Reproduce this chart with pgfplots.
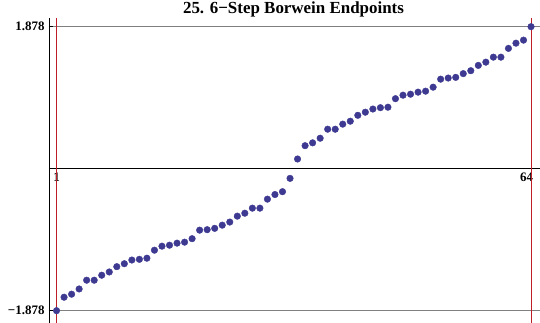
\documentclass[border=0pt]{standalone}
\usepackage{fontspec}
\setmainfont{Liberation Serif}
\usepackage{pgfplots}
\pgfplotsset{compat=1.18}
\definecolor{ptblue}{RGB}{62,58,145}
\definecolor{gridred}{RGB}{190,30,40}
\definecolor{gridgray}{RGB}{128,128,128}
\begin{document}
\begin{tikzpicture}
\begin{axis}[
  scale only axis,
  width=491bp, height=305bp,
  xmin=0, xmax=65.19,
  ymin=-2.041, ymax=1.993,
  axis lines=middle,
  axis line style={-, black, line width=0.6pt},
  xtick={1,64}, xticklabels={1,\hspace*{-9bp}64},
  ytick={-1.878,1.878}, yticklabels={−1.878,1.878},
  ymajorgrids,
  major y grid style={gridgray, line width=0.6pt},
  tick align=inside,
  major tick length=4bp,
  tick style={black, line width=0.5pt},
  ticklabel style={font=\fontsize{13}{14}\selectfont\bfseries},
  xticklabel style={anchor=north, yshift=-1bp},
  yticklabel style={anchor=east, xshift=-1bp},
  title={25. 6−Step Borwein Endpoints},
  title style={font=\fontsize{17}{18}\selectfont\bfseries, at={(0.498,1)}, anchor=base, inner sep=0pt, yshift=-1bp},
  clip=false,
]
\addplot[draw=gridred, line width=0.7pt] coordinates {(1,-2.041) (1,1.993)};
\addplot[draw=gridred, line width=0.7pt] coordinates {(64,-2.041) (64,1.993)};
\addplot[only marks, mark=*, mark size=3.3bp, color=ptblue, mark options={draw=ptblue, fill=ptblue}] coordinates {
(1,-1.878) (2,-1.700) (3,-1.660) (4,-1.591) (5,-1.475) (6,-1.475) (7,-1.409) (8,-1.366)
(9,-1.296) (10,-1.257) (11,-1.208) (12,-1.199) (13,-1.184) (14,-1.078) (15,-1.025) (16,-1.012)
(17,-0.985) (18,-0.972) (19,-0.926) (20,-0.813) (21,-0.807) (22,-0.789) (23,-0.747) (24,-0.706)
(25,-0.628) (26,-0.589) (27,-0.522) (28,-0.522) (29,-0.403) (30,-0.342) (31,-0.304) (32,-0.128)
(33,0.128) (34,0.304) (35,0.342) (36,0.403) (37,0.522) (38,0.522) (39,0.589) (40,0.628)
(41,0.706) (42,0.747) (43,0.789) (44,0.807) (45,0.813) (46,0.926) (47,0.972) (48,0.985)
(49,1.012) (50,1.025) (51,1.078) (52,1.184) (53,1.199) (54,1.208) (55,1.257) (56,1.296)
(57,1.366) (58,1.409) (59,1.475) (60,1.475) (61,1.591) (62,1.660) (63,1.700) (64,1.878)
};
\end{axis}
\pgfresetboundingbox
\path[use as bounding box] (-49bp,0) rectangle (491bp,323bp);
\end{tikzpicture}
\end{document}
